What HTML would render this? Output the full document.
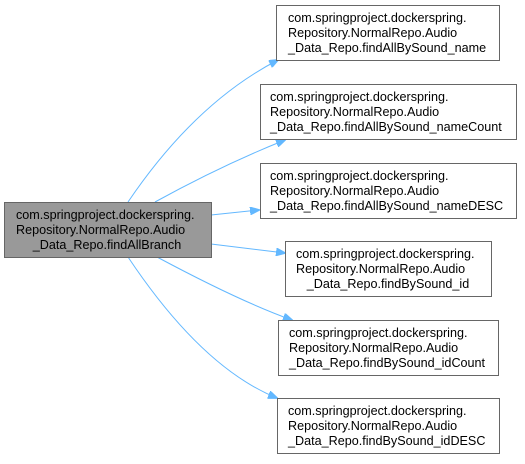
<!DOCTYPE html>
<html><head><style>body{margin:0;background:#fff}</style></head><body>
<svg width="525" height="459" xmlns="http://www.w3.org/2000/svg" font-family="Liberation Sans, sans-serif" font-size="12.6">
<defs><marker id="a" markerWidth="10" markerHeight="8" refX="9" refY="4" orient="auto" markerUnits="userSpaceOnUse"><path d="M0,0 L10,4 L0,8 z" fill="#63b8ff" stroke="#63b8ff"/></marker></defs>
<g fill="none" stroke="#63b8ff" stroke-width="1">
<path d="M128,202 C170,140 220,90 278,60" marker-end="url(#a)"/>
<path d="M155,202 C195,180 240,158 285,140" marker-end="url(#a)"/>
<path d="M211,215 L259,210" marker-end="url(#a)"/>
<path d="M211,244 L285,253" marker-end="url(#a)"/>
<path d="M157,257 C200,280 250,305 292,320" marker-end="url(#a)"/>
<path d="M128,257 C170,320 220,375 277,398" marker-end="url(#a)"/>
</g>
<g stroke="#666" stroke-width="1">
<rect x="4.5" y="202.5" width="207" height="55" fill="#999"/>
<rect x="276.5" y="5.5" width="223" height="55" fill="#fff"/>
<rect x="260.5" y="84.5" width="256" height="55" fill="#fff"/>
<rect x="260.5" y="163.5" width="256" height="55" fill="#fff"/>
<rect x="285.5" y="241.5" width="206" height="55" fill="#fff"/>
<rect x="278.5" y="320.5" width="220" height="55" fill="#fff"/>
<rect x="277.5" y="398.5" width="222" height="55" fill="#fff"/>
</g>
<g fill="#000">
<text x="16" y="219">com.springproject.dockerspring.</text><text x="16" y="234">Repository.NormalRepo.Audio</text><text x="107" y="249" text-anchor="middle">_Data_Repo.findAllBranch</text>
<text x="288" y="22">com.springproject.dockerspring.</text><text x="288" y="37">Repository.NormalRepo.Audio</text><text x="288" y="52">_Data_Repo.findAllBySound_name</text>
<text x="270" y="101">com.springproject.dockerspring.</text><text x="270" y="116">Repository.NormalRepo.Audio</text><text x="270" y="131">_Data_Repo.findAllBySound_nameCount</text>
<text x="270" y="180">com.springproject.dockerspring.</text><text x="270" y="195">Repository.NormalRepo.Audio</text><text x="270" y="210">_Data_Repo.findAllBySound_nameDESC</text>
<text x="296" y="258">com.springproject.dockerspring.</text><text x="296" y="273">Repository.NormalRepo.Audio</text><text x="388" y="288" text-anchor="middle">_Data_Repo.findBySound_id</text>
<text x="289" y="337">com.springproject.dockerspring.</text><text x="289" y="352">Repository.NormalRepo.Audio</text><text x="289" y="367">_Data_Repo.findBySound_idCount</text>
<text x="288" y="415">com.springproject.dockerspring.</text><text x="288" y="430">Repository.NormalRepo.Audio</text><text x="288" y="445">_Data_Repo.findBySound_idDESC</text>
</g>
</svg>
</body></html>
